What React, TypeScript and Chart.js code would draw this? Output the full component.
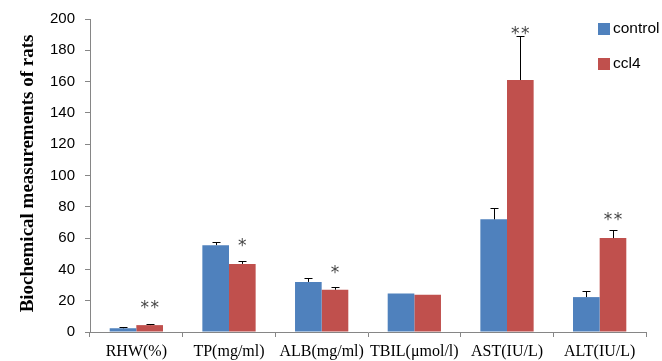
import React, { useEffect, useRef } from "react";
import { Chart, registerables } from "chart.js";

Chart.register(...registerables);

const categories = ["RHW(%)", "TP(mg/ml)", "ALB(mg/ml)", "TBIL(μmol/l)", "AST(IU/L)", "ALT(IU/L)"];
const controlValues = [2.4, 55.5, 32, 24.6, 72, 22.3];
const controlErrors = [1.0, 2.2, 2.2, 0, 7.3, 3.8];
const ccl4Values = [4.4, 43.5, 27, 23.8, 161, 60];
const ccl4Errors = [0.9, 2.0, 1.7, 0, 28, 5.4];
const ccl4Significance = ["**", "*", "*", "", "**", "**"];
const significanceLevel = [16.6, 56.3, 39.2, 0, 191.8, 72.8];
const yTicks = { min: 0, max: 200, step: 20 };
const seriesNames = ["control", "ccl4"];
const seriesColors = ["#4F81BD", "#C0504D"];
const yTitle = "Biochemical measurements of rats";

const AXIS = "#868686";

const overlayPlugin = {
  id: "overlay",
  afterDatasetsDraw(chart: any) {
    const ctx = chart.ctx;
    const yScale = chart.scales.y;
    const errs = [controlErrors, ccl4Errors];
    const vals = [controlValues, ccl4Values];
    ctx.save();
    ctx.strokeStyle = "#000";
    ctx.lineWidth = 1;
    chart.data.datasets.forEach((_: any, di: number) => {
      const meta = chart.getDatasetMeta(di);
      meta.data.forEach((bar: any, i: number) => {
        const e = errs[di][i];
        if (!e) return;
        const x = Math.round(bar.x) + 0.5;
        const y0 = yScale.getPixelForValue(vals[di][i]);
        const y1 = Math.round(yScale.getPixelForValue(vals[di][i] + e)) + 0.5;
        ctx.beginPath();
        ctx.moveTo(x, y0);
        ctx.lineTo(x, y1);
        ctx.moveTo(x - 4, y1);
        ctx.lineTo(x + 4, y1);
        ctx.stroke();
      });
    });
    // significance marks
    const meta1 = chart.getDatasetMeta(1);
    ctx.fillStyle = "#444";
    ctx.font = "17px 'DejaVu Sans'";
    ctx.textAlign = "center";
    ctx.textBaseline = "middle";
    meta1.data.forEach((bar: any, i: number) => {
      const s = ccl4Significance[i];
      if (!s) return;
      const y = yScale.getPixelForValue(significanceLevel[i]) + 3;
      if (s.length === 2) {
        ctx.fillText("*", bar.x - 5, y);
        ctx.fillText("*", bar.x + 5, y);
      } else {
        ctx.fillText("*", bar.x, y);
      }
    });
    ctx.restore();
  },
  afterDraw(chart: any) {
    const ctx = chart.ctx;
    ctx.save();
    // y title
    ctx.translate(28, (chart.chartArea.top + chart.chartArea.bottom) / 2 - 2);
    ctx.rotate(-Math.PI / 2);
    ctx.fillStyle = "#000";
    ctx.font = "bold 19px 'Liberation Serif'";
    ctx.textAlign = "center";
    ctx.textBaseline = "middle";
    ctx.fillText(yTitle, 0, 0);
    ctx.restore();
    // legend
    ctx.save();
    ctx.font = "15.5px 'Liberation Sans'";
    ctx.textBaseline = "middle";
    ctx.textAlign = "left";
    seriesNames.forEach((name, i) => {
      const cy = 29 + i * 35;
      ctx.fillStyle = seriesColors[i];
      ctx.fillRect(598, cy - 6, 12, 12);
      ctx.fillStyle = "#000";
      ctx.fillText(name, 613, cy);
    });
    ctx.restore();
  },
};

export default function App() {
  const ref = useRef<HTMLCanvasElement>(null);
  useEffect(() => {
    if (!ref.current) return;
    const chart = new Chart(ref.current, {
      type: "bar",
      data: {
        labels: categories,
        datasets: [
          {
            label: seriesNames[0],
            data: controlValues,
            backgroundColor: seriesColors[0],
            categoryPercentage: 0.575,
            barPercentage: 1,
          },
          {
            label: seriesNames[1],
            data: ccl4Values,
            backgroundColor: seriesColors[1],
            categoryPercentage: 0.575,
            barPercentage: 1,
          },
        ],
      },
      options: {
        responsive: false,
        animation: false,
        layout: { padding: { left: 0, right: 16, top: 16, bottom: 0 } },
        plugins: { legend: { display: false }, tooltip: { enabled: false } },
        scales: {
          x: {
            grid: { display: true, drawOnChartArea: false, drawTicks: true, tickLength: 5, color: AXIS, offset: true },
            border: { display: true, color: AXIS, width: 1 },
            ticks: {
              color: "#000",
              font: { family: "'Liberation Serif'", size: 16 },
              padding: 5,
              maxRotation: 0,
              autoSkip: false,
            },
            afterFit: (s: any) => {
              s.height = 29;
            },
          },
          y: {
            min: yTicks.min,
            max: yTicks.max,
            grid: { display: true, drawOnChartArea: false, drawTicks: true, tickLength: 5, color: AXIS },
            border: { display: true, color: AXIS, width: 1 },
            ticks: {
              stepSize: yTicks.step,
              color: "#000",
              font: { family: "'Liberation Sans'", size: 15 },
              padding: 10,
            },
            afterFit: (s: any) => {
              s.width = 90;
            },
          },
        },
      },
      plugins: [overlayPlugin],
    });
    return () => chart.destroy();
  }, []);
  return (
    <div style={{ position: "fixed", left: 0, top: 0, width: 662, height: 361, background: "#fff" }}>
      <canvas ref={ref} width={662} height={361} />
    </div>
  );
}
